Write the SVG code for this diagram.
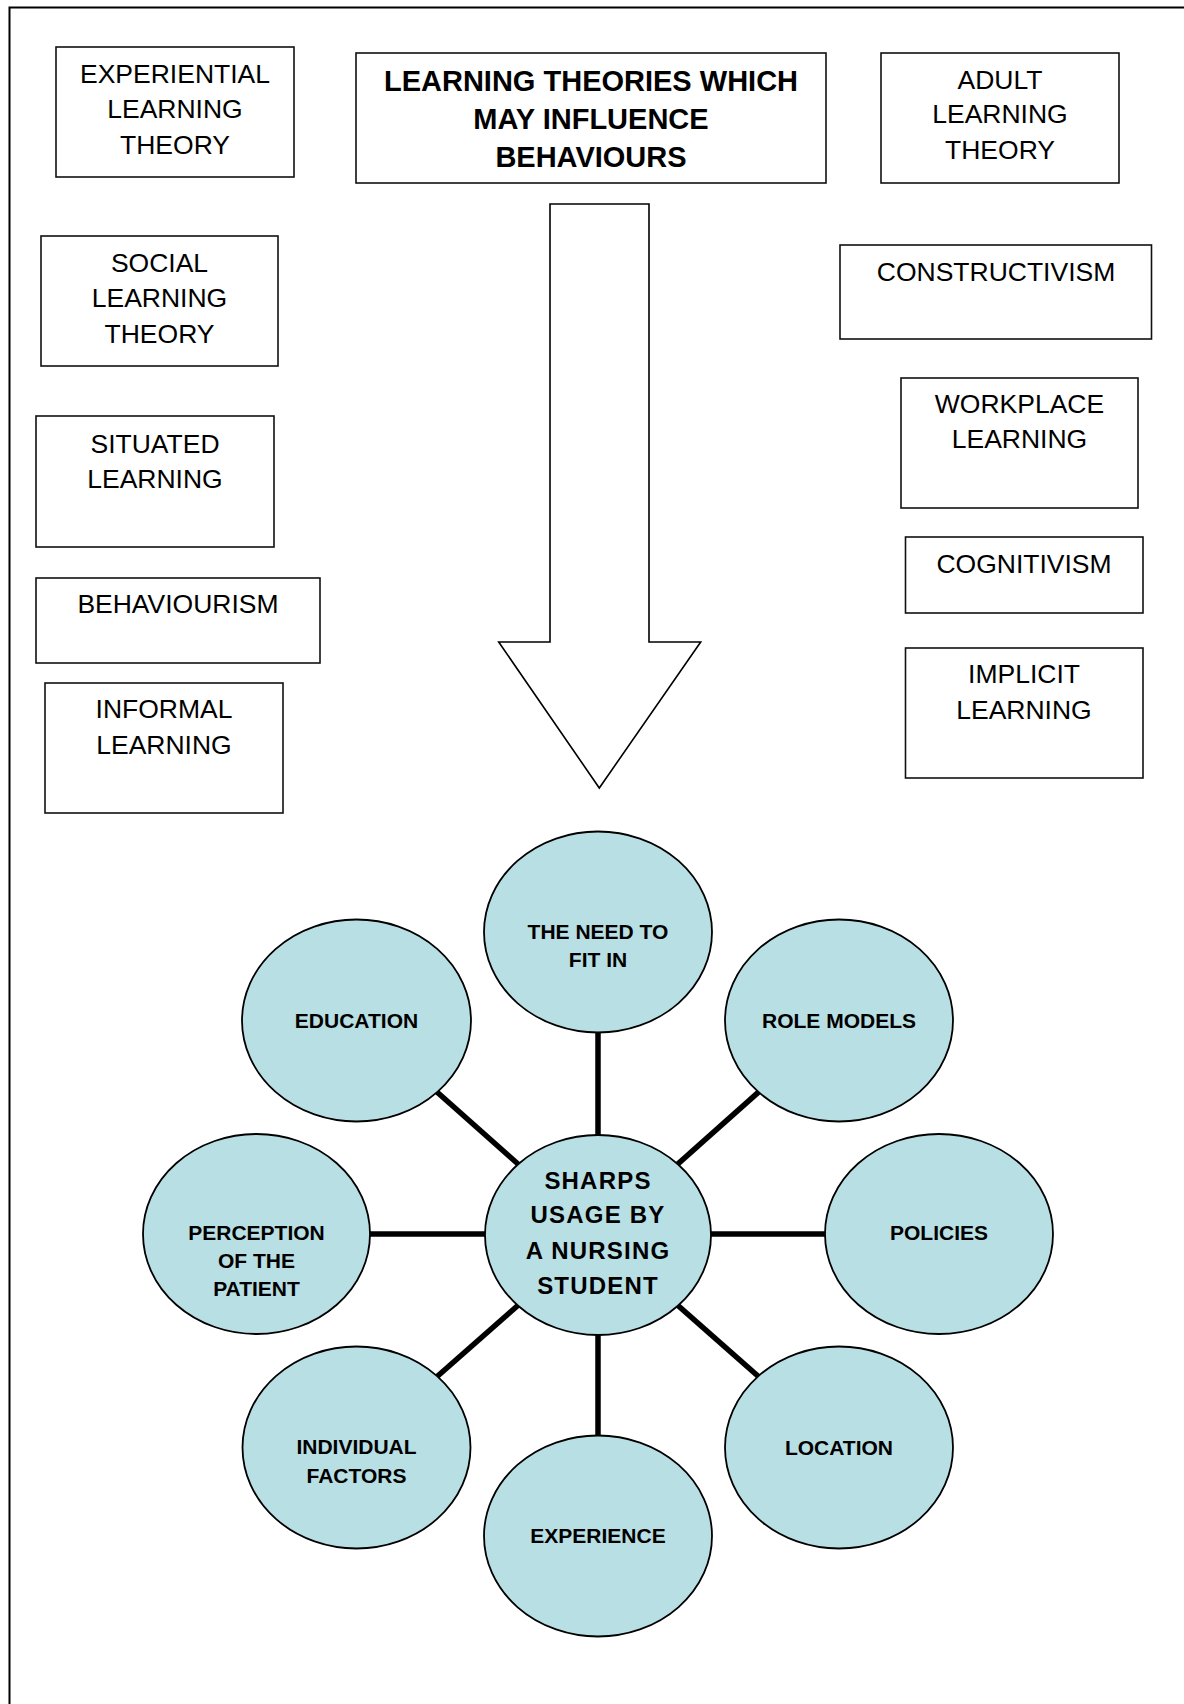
<svg xmlns="http://www.w3.org/2000/svg" width="1184" height="1704" viewBox="0 0 1184 1704">
<style>
.box{fill:#fff;stroke:#111;stroke-width:1.6}
.t{font-family:"Liberation Sans",Arial,sans-serif;font-size:26.5px;fill:#000;text-anchor:middle}
.tb{font-family:"Liberation Sans",Arial,sans-serif;font-size:29px;font-weight:bold;fill:#000;text-anchor:middle}
.ell{fill:#b8dfe3;stroke:#000;stroke-width:1.8}
.et{font-family:"Liberation Sans",Arial,sans-serif;font-size:21px;font-weight:bold;fill:#000;text-anchor:middle}
.ec{font-family:"Liberation Sans",Arial,sans-serif;font-size:24px;font-weight:bold;fill:#000;text-anchor:middle;letter-spacing:1.2px}
.con{stroke:#000;stroke-width:5.5;fill:none}
</style>
<rect x="0" y="0" width="1184" height="1704" fill="#fff"/>
<path d="M9.5,1704 V7.5 H1184" fill="none" stroke="#000" stroke-width="2"/>

<g id="title">
<rect class="box" x="356" y="53" width="470" height="130"/>
<text class="tb" x="591" y="91">LEARNING THEORIES WHICH</text>
<text class="tb" x="591" y="128.5">MAY INFLUENCE</text>
<text class="tb" x="591" y="166.5">BEHAVIOURS</text>
</g>
<g id="experiential">
<rect class="box" x="56" y="47" width="238" height="130"/>
<text class="t" x="175" y="83">EXPERIENTIAL</text>
<text class="t" x="175" y="118">LEARNING</text>
<text class="t" x="175" y="153.5">THEORY</text>
</g>
<g id="adult">
<rect class="box" x="881" y="53" width="238" height="130"/>
<text class="t" x="1000" y="88.5">ADULT</text>
<text class="t" x="1000" y="123">LEARNING</text>
<text class="t" x="1000" y="159">THEORY</text>
</g>
<g id="social">
<rect class="box" x="41" y="236" width="237" height="130"/>
<text class="t" x="159.5" y="272">SOCIAL</text>
<text class="t" x="159.5" y="307">LEARNING</text>
<text class="t" x="159.5" y="342.5">THEORY</text>
</g>
<g id="constructivism">
<rect class="box" x="840" y="245" width="311.5" height="94"/>
<text class="t" x="996" y="281">CONSTRUCTIVISM</text>
</g>
<g id="situated">
<rect class="box" x="36" y="416" width="238" height="131"/>
<text class="t" x="155" y="453">SITUATED</text>
<text class="t" x="155" y="487.5">LEARNING</text>
</g>
<g id="workplace">
<rect class="box" x="901" y="378" width="237" height="130"/>
<text class="t" x="1019.5" y="413">WORKPLACE</text>
<text class="t" x="1019.5" y="448">LEARNING</text>
</g>
<g id="behaviourism">
<rect class="box" x="36" y="578" width="284" height="85"/>
<text class="t" x="178" y="613">BEHAVIOURISM</text>
</g>
<g id="cognitivism">
<rect class="box" x="905.5" y="537" width="237.5" height="76"/>
<text class="t" x="1024" y="573">COGNITIVISM</text>
</g>
<g id="informal">
<rect class="box" x="45" y="683" width="238" height="130"/>
<text class="t" x="164" y="718">INFORMAL</text>
<text class="t" x="164" y="753.5">LEARNING</text>
</g>
<g id="implicit">
<rect class="box" x="905.5" y="648" width="237.5" height="130"/>
<text class="t" x="1024" y="683">IMPLICIT</text>
<text class="t" x="1024" y="719">LEARNING</text>
</g>
<g id="arrow">
<polygon points="550,204 649,204 649,642 700.7,642 599.3,788 498.7,642 550,642" fill="#fff" stroke="#000" stroke-width="1.6"/>
</g>

<g id="connectors">
<line class="con" x1="598" y1="932" x2="598" y2="1235"/>
<line class="con" x1="598" y1="1235" x2="598" y2="1536"/>
<line class="con" x1="256.5" y1="1234" x2="939" y2="1234"/>
<line class="con" x1="356.5" y1="1020.5" x2="598" y2="1235"/>
<line class="con" x1="839" y1="1020.5" x2="598" y2="1235"/>
<line class="con" x1="356.5" y1="1447.5" x2="598" y2="1235"/>
<line class="con" x1="839" y1="1447.5" x2="598" y2="1235"/>
</g>

<g id="need">
<ellipse class="ell" cx="598" cy="932" rx="114" ry="100.5"/>
<text class="et" x="598" y="938.5">THE NEED TO</text>
<text class="et" x="598" y="966.5">FIT IN</text>
</g>
<g id="education">
<ellipse class="ell" cx="356.5" cy="1020.5" rx="114.5" ry="101"/>
<text class="et" x="356.5" y="1028">EDUCATION</text>
</g>
<g id="rolemodels">
<ellipse class="ell" cx="839" cy="1020.5" rx="114" ry="101"/>
<text class="et" x="839" y="1028">ROLE MODELS</text>
</g>
<g id="perception">
<ellipse class="ell" cx="256.5" cy="1234" rx="113.5" ry="100"/>
<text class="et" x="256.5" y="1240">PERCEPTION</text>
<text class="et" x="256.5" y="1268">OF THE</text>
<text class="et" x="256.5" y="1296">PATIENT</text>
</g>
<g id="center">
<ellipse class="ell" cx="598" cy="1235" rx="113" ry="100"/>
<text class="ec" x="598" y="1188.5">SHARPS</text>
<text class="ec" x="598" y="1223">USAGE BY</text>
<text class="ec" x="598" y="1258.5">A NURSING</text>
<text class="ec" x="598" y="1294">STUDENT</text>
</g>
<g id="policies">
<ellipse class="ell" cx="939" cy="1234" rx="114" ry="100"/>
<text class="et" x="939" y="1240">POLICIES</text>
</g>
<g id="individual">
<ellipse class="ell" cx="356.5" cy="1447.5" rx="114" ry="101"/>
<text class="et" x="356.5" y="1454">INDIVIDUAL</text>
<text class="et" x="356.5" y="1482.5">FACTORS</text>
</g>
<g id="location">
<ellipse class="ell" cx="839" cy="1447.5" rx="114" ry="101"/>
<text class="et" x="839" y="1455">LOCATION</text>
</g>
<g id="experience">
<ellipse class="ell" cx="598" cy="1536" rx="114" ry="100.5"/>
<text class="et" x="598" y="1542.5">EXPERIENCE</text>
</g>
</svg>
